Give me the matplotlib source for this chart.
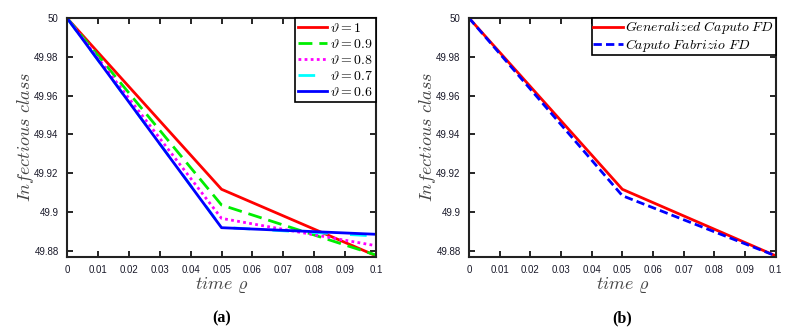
import matplotlib
matplotlib.use('Agg')
import matplotlib.pyplot as plt

plt.rcParams['mathtext.fontset'] = 'cm'
plt.rcParams['font.family'] = 'Liberation Sans'

# data
t = [0.0, 0.05, 0.1]
theta_labels = [r'$\vartheta = 1$', r'$\vartheta = 0.9$', r'$\vartheta = 0.8$',
                r'$\vartheta = 0.7$', r'$\vartheta = 0.6$']
I_theta = [
    [50.0, 49.9117, 49.8774],
    [50.0, 49.9036, 49.8778],
    [50.0, 49.8967, 49.8826],
    [50.0, 49.8921, 49.8876],
    [50.0, 49.8919, 49.8885],
]
I_gen_caputo = [50.0, 49.9117, 49.8774]
I_caputo_fab = [50.0, 49.9084, 49.8774]

xticks = [0, 0.01, 0.02, 0.03, 0.04, 0.05, 0.06, 0.07, 0.08, 0.09, 0.1]
xticklabels = ['0', '0.01', '0.02', '0.03', '0.04', '0.05', '0.06', '0.07', '0.08', '0.09', '0.1']
yticks = [49.88, 49.90, 49.92, 49.94, 49.96, 49.98, 50.0]
yticklabels = ['49.88', '49.9', '49.92', '49.94', '49.96', '49.98', '50']

fig = plt.figure(figsize=(8.05, 3.31), dpi=100)
ax1 = fig.add_axes([0.0832, 0.2236, 0.384, 0.722])
ax2 = fig.add_axes([0.5826, 0.2236, 0.381, 0.722])

colors = ['red', '#00ee00', 'magenta', 'cyan', 'blue']
styles = ['-', (0, (5, 2.5)), (0, (1, 1.2)), (0, (6, 8)), '-']
for y, c, ls, lab in zip(I_theta, colors, styles, theta_labels):
    ax1.plot(t, y, color=c, linestyle=ls, linewidth=2, label=lab)

ax2.plot(t, I_gen_caputo, color='red', linewidth=2, label=r'$Generalized\ Caputo\ FD$')
ax2.plot(t, I_caputo_fab, color='blue', linewidth=2, linestyle=(0, (3, 1.5)),
         label=r'$Caputo\ Fabrizio\ FD$')

for ax, tag in [(ax1, '(a)'), (ax2, '(b)')]:
    ax.set_xlim(0, 0.1)
    ax.set_ylim(49.8768, 50.0)
    ax.set_xticks(xticks)
    ax.set_xticklabels(xticklabels)
    ax.set_yticks(yticks)
    ax.set_yticklabels(yticklabels)
    ax.tick_params(direction='in', top=True, right=True, length=4, width=1.2,
                   labelsize=7, labelcolor='#1a1a2a', pad=6)
    for s in ax.spines.values():
        s.set_linewidth(1.5)
        s.set_color('#222222')
    ax.set_xlabel(r'$time\ \varrho$', fontsize=13, color='#444444', labelpad=0)
    ax.set_ylabel(r'$Infectious\ class$', fontsize=13, color='#444444', labelpad=-1)
    ax.text(0.5, -0.255, tag, transform=ax.transAxes, ha='center', va='center',
            fontsize=11.5, fontweight='bold', family='Liberation Serif')

leg1 = ax1.legend(loc='upper right', fontsize=10, handlelength=2.1, handletextpad=0.2,
                  borderpad=0.2, labelspacing=0.15, borderaxespad=0.0, fancybox=False,
                  framealpha=1)
leg1.get_frame().set_edgecolor('black')
leg1.get_frame().set_linewidth(1.2)
leg2 = ax2.legend(loc='upper right', fontsize=10, handlelength=2.1, handletextpad=0.2,
                  borderpad=0.1, labelspacing=0.02, borderaxespad=0.0, fancybox=False,
                  framealpha=1)
leg2.get_frame().set_edgecolor('black')
leg2.get_frame().set_linewidth(1.2)

fig.savefig('out.png', dpi=100)
